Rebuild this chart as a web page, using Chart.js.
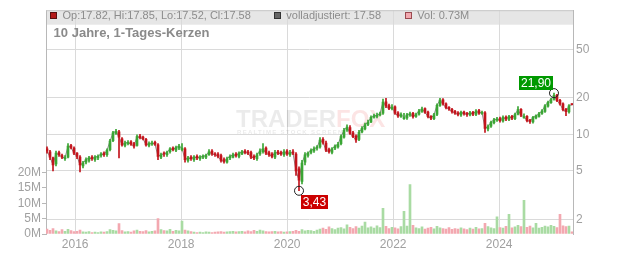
<!DOCTYPE html>
<html><head><meta charset="utf-8">
<script src="https://cdn.jsdelivr.net/npm/chart.js@4"></script>
<style>html,body{margin:0;padding:0;background:#fff;overflow:hidden}canvas{display:block}</style>
</head><body>
<canvas id="c" width="632" height="253"></canvas>
<script>
// ---- data ----
const startYear = 2015.469;   // first candle (decimal year)
const stepYears = 0.0566;     // candle spacing
const opens = [
7.6,7.2,6.4,5.7,7.1,6.7,6.3,6.5,8.1,7.7,
7.0,6.5,5.5,5.9,6.1,6.5,6.2,6.4,6.7,7.0,
6.8,7.5,8.9,10.2,10.5,9.2,8.1,8.4,8.7,8.4,
8.1,9.7,9.5,9.1,8.1,8.3,8.6,8.2,6.5,7.0,
6.8,7.2,7.7,7.4,7.7,7.5,7.6,6.1,6.5,6.2,
6.6,6.3,6.5,6.5,6.8,7.3,6.9,6.9,6.7,6.2,
5.9,6.4,6.5,6.9,6.6,6.9,7.3,7.2,7.1,6.6,
6.3,6.9,7.2,7.7,7.1,6.9,6.5,7.2,7.1,6.8,
7.3,6.8,7.2,6.9,5.2,4.1,5.9,6.7,7.1,7.3,
7.7,7.9,9.1,8.5,7.5,7.1,7.7,7.9,8.4,9.5,
10.9,11.4,10.3,9.7,9.1,10.5,11.1,12.1,12.7,13.9,
14.1,14.5,15.0,18.6,17.3,16.3,16.9,15.1,14.1,13.5,
13.7,14.4,14.9,14.1,14.7,15.5,16.3,15.3,14.1,13.5,
14.6,17.3,19.3,17.9,16.7,16.1,15.5,15.1,14.5,15.3,
14.9,14.5,15.2,14.6,15.7,14.9,15.1,11.1,11.7,12.5,
13.1,13.5,12.9,13.9,13.3,14.1,13.5,14.7,16.1,13.7,
14.1,13.1,12.7,13.7,14.1,14.9,15.5,17.1,18.3,19.5,
21.1,19.1,17.9,16.1,15.3,17.82];
const highs = [
7.9,7.4,6.5,7.3,7.3,6.9,6.7,8.4,8.3,7.9,
7.1,6.7,6.0,6.4,6.6,6.7,6.7,6.8,7.1,7.2,
7.6,9.1,10.6,11.0,10.8,9.4,8.8,8.9,8.9,8.6,
9.9,10.0,9.7,9.3,8.7,8.8,8.8,8.4,7.0,7.2,
7.3,7.8,7.9,8.0,8.3,8.4,7.8,6.6,6.7,6.7,
6.8,6.7,6.8,6.9,7.5,7.5,7.1,7.1,6.9,6.4,
6.5,6.8,7.0,7.1,7.2,7.4,7.5,7.4,7.3,6.8,
7.0,7.6,8.4,7.9,7.3,7.1,7.4,7.4,7.3,7.5,
7.5,7.4,7.5,7.1,5.4,6.1,7.1,7.2,7.6,7.9,
8.1,9.4,9.4,8.8,7.7,7.8,8.2,8.6,9.9,11.2,
12.0,11.8,10.6,9.9,10.8,11.6,12.4,13.1,14.2,14.7,
15.0,15.3,19.6,19.8,17.8,17.6,17.2,15.4,15.1,14.9,
14.9,15.3,15.2,15.0,16.1,16.8,16.6,15.6,14.3,14.9,
17.9,19.8,19.7,18.2,17.0,16.4,15.8,15.4,15.6,15.6,
15.2,15.5,15.5,16.0,16.1,15.6,15.4,12.0,12.9,13.6,
13.8,13.9,14.2,14.2,14.4,14.4,15.0,17.0,16.3,14.8,
14.3,13.3,14.1,14.5,15.2,16.0,17.6,18.8,19.8,21.9,
21.4,19.5,18.2,16.4,17.6,17.85];
const lows = [
7.0,6.2,5.0,5.5,6.6,6.3,6.1,6.4,7.6,6.8,
6.3,4.9,5.3,5.7,5.9,6.1,6.0,6.2,6.5,6.6,
6.6,7.3,8.7,10.0,6.4,8.0,7.9,8.2,8.1,7.7,
8.0,9.2,9.0,8.0,7.9,8.1,8.1,6.2,6.3,6.6,
6.6,7.0,7.3,7.2,7.5,7.3,5.9,5.9,6.1,6.0,
6.2,6.1,6.3,6.3,6.7,6.7,6.6,6.4,5.9,5.8,
5.8,6.2,6.4,6.5,6.4,6.8,6.9,6.8,6.3,6.2,
6.1,6.7,7.0,6.8,6.6,6.4,6.3,6.8,6.7,6.6,
6.7,6.6,6.8,4.6,3.43,3.9,5.6,6.5,6.9,7.1,
7.4,7.7,8.3,7.2,7.0,6.9,7.5,7.7,8.2,9.3,
10.6,10.0,9.4,8.6,8.9,10.3,10.9,11.8,12.5,13.6,
13.7,14.2,14.6,16.6,16.0,15.9,14.6,13.8,13.8,13.3,
13.3,14.1,13.6,13.8,14.4,15.2,14.9,13.7,13.2,13.2,
14.3,17.0,17.4,16.2,15.8,15.0,14.6,14.2,14.1,14.4,
14.1,14.2,14.3,14.3,14.6,14.6,10.4,10.7,11.4,12.2,
12.8,12.6,12.6,13.0,13.0,13.2,13.2,14.5,14.0,13.6,
12.7,12.3,12.4,13.4,13.9,14.6,15.2,16.8,18.0,19.2,
18.6,17.4,15.6,14.3,15.0,17.52];
const closes = [
7.3,6.5,5.6,7.0,6.8,6.5,6.4,8.0,7.8,7.0,
6.6,5.6,5.8,6.2,6.4,6.3,6.5,6.6,6.9,6.8,
7.4,8.8,10.3,10.6,9.5,8.2,8.5,8.6,8.3,8.0,
9.6,9.4,9.2,8.2,8.4,8.5,8.3,6.6,6.8,6.9,
7.1,7.6,7.5,7.8,8.0,7.7,6.2,6.4,6.3,6.5,
6.4,6.5,6.6,6.7,7.2,6.9,6.8,6.6,6.1,6.0,
6.3,6.6,6.8,6.7,7.0,7.2,7.1,7.0,6.5,6.4,
6.8,7.3,7.6,7.0,6.8,6.6,7.1,7.0,6.9,7.2,
6.9,7.1,7.0,5.0,4.2,5.8,6.8,7.0,7.4,7.6,
7.8,9.0,8.6,7.4,7.2,7.6,8.0,8.3,9.6,10.8,
11.5,10.2,9.6,9.0,10.4,11.2,12.0,12.6,13.8,14.2,
14.4,14.8,18.5,17.2,16.4,16.8,15.0,14.2,14.6,13.8,
14.5,14.8,14.0,14.6,15.6,16.2,15.2,14.0,13.6,14.5,
17.4,19.2,17.8,16.6,16.2,15.4,15.0,14.6,15.2,14.8,
14.6,15.1,14.7,15.6,15.0,15.2,11.2,11.6,12.6,13.2,
13.4,13.0,13.8,13.4,14.0,13.6,14.6,16.0,14.4,14.0,
13.0,12.8,13.8,14.2,14.8,15.6,17.2,18.4,19.4,21.0,
19.0,17.8,16.0,15.4,17.2,17.58];
const volumes = [ // millions
1.6,1.2,1.8,1.0,0.8,1.4,0.9,1.5,1.1,0.8,
0.9,1.3,0.7,0.6,0.8,0.5,0.6,0.5,0.7,0.6,
0.8,1.4,1.2,1.0,3.4,1.1,0.7,0.8,0.6,1.0,
1.3,0.9,0.8,1.1,0.7,0.9,1.0,5.0,1.4,1.1,
1.0,1.5,0.9,1.2,1.0,4.2,1.3,1.0,0.8,0.6,
0.5,0.6,0.5,0.7,0.6,0.5,0.6,0.7,0.8,0.6,
0.7,0.8,0.9,0.7,0.8,0.9,0.7,1.0,0.8,1.2,
0.9,1.3,1.0,0.8,0.7,0.8,0.9,0.7,0.8,0.6,
0.7,0.8,0.9,1.2,0.9,1.4,1.0,1.2,1.1,0.9,
1.3,1.6,1.9,1.5,2.3,1.8,1.4,1.9,2.1,1.7,
3.0,2.2,1.8,2.4,1.9,2.6,3.9,2.0,2.3,1.9,
2.7,2.1,8.4,2.5,1.8,2.2,2.0,1.7,2.4,7.4,
2.6,16.1,2.8,2.0,1.8,2.3,1.6,1.9,2.2,1.7,
2.5,2.0,1.8,1.6,2.1,1.5,1.8,1.6,2.0,1.7,
1.4,1.9,1.6,2.2,1.7,1.8,3.5,2.4,2.0,1.8,
5.6,2.1,1.9,2.5,6.4,2.0,2.3,2.8,2.4,11.0,
2.2,2.6,2.0,3.5,1.9,2.2,2.6,2.3,2.8,2.5,
2.1,6.4,2.7,2.4,2.6,0.73];
const yearTicks = [2016, 2018, 2020, 2022, 2024];
const priceTicks = [2, 5, 10, 20, 50];
const volumeTicks = [0, 5, 10, 15, 20];
const titleText = '10 Jahre, 1-Tages-Kerzen';
const legendOhlc = 'Op:17.82, Hi:17.85, Lo:17.52, Cl:17.58';
const legendAdj = 'volladjustiert: 17.58';
const legendVol = 'Vol: 0.73M';

// ---- styling ----
const FONT = "'Liberation Sans', Arial, sans-serif";
const GREEN = '#3aa534', RED = '#c3141c', VGREEN = '#a9dba3', VRED = '#f3a8b0';
const TICKCOL = '#a0a0a0', GRIDCOL = '#dadada', AXISCOL = '#b8b8b8';

const dates = closes.map((_, i) => startYear + i * stepYears);
const up = closes.map((c, i) => c >= opens[i]);

const decor = {
  id: 'decor',
  beforeDraw(chart) {
    const ctx = chart.ctx, a = chart.chartArea;
    ctx.save();
    ctx.fillStyle = '#fff'; ctx.fillRect(0, 0, chart.width, chart.height);
    ctx.fillStyle = '#e6e6e6'; ctx.fillRect(a.left, a.top, a.right - a.left, 14.5);
    ctx.restore();
  },
  beforeDatasetsDraw(chart) {
    const ctx = chart.ctx;
    ctx.save();
    ctx.font = 'bold 24px ' + FONT; ctx.textBaseline = 'alphabetic';
    ctx.fillStyle = 'rgba(0,0,0,0.08)';
    ctx.fillText('TRADER', 236, 127);
    const w = ctx.measureText('TRADER').width;
    ctx.fillStyle = 'rgba(235,90,90,0.16)';
    ctx.fillText('FOX', 236 + w, 127);
    ctx.font = 'bold 6px ' + FONT;
    ctx.letterSpacing = '1.3px';
    ctx.fillStyle = 'rgba(0,0,0,0.09)';
    ctx.fillText('REALTIME STOCK SCREENING', 237, 134);
    ctx.restore();
  },
  afterDraw(chart) {
    const ctx = chart.ctx, a = chart.chartArea;
    ctx.save();
    ctx.strokeStyle = '#c8c8c8'; ctx.lineWidth = 1;
    ctx.beginPath(); ctx.moveTo(a.left, a.top + 0.5); ctx.lineTo(a.right, a.top + 0.5); ctx.stroke();
    const sq = (x, fill, stroke) => {
      ctx.fillStyle = fill; ctx.fillRect(x, 12.5, 6, 6);
      ctx.strokeStyle = stroke; ctx.lineWidth = 1; ctx.strokeRect(x + 0.5, 12.5, 6, 6);
    };
    ctx.font = '11px ' + FONT; ctx.textBaseline = 'middle';
    sq(50, '#b41a1a', '#5a1010');
    ctx.fillStyle = '#8c8c8c'; ctx.fillText(legendOhlc, 62.5, 16);
    sq(274, '#666', '#333');
    ctx.fillStyle = '#8c8c8c'; ctx.fillText(legendAdj, 286.3, 16);
    sq(405, '#f2a9b0', '#9a4a50');
    ctx.fillStyle = '#8c8c8c'; ctx.fillText(legendVol, 417.3, 16);
    ctx.font = 'bold 13px ' + FONT; ctx.fillStyle = '#8a8a8a';
    ctx.fillText(titleText, 53.6, 33.5);
    // annotations: min low and max high
    const xs = chart.scales.x, ys = chart.scales.y;
    let iMin = 0, iMax = 0;
    lows.forEach((v, i) => { if (v < lows[iMin]) iMin = i; });
    highs.forEach((v, i) => { if (v > highs[iMax]) iMax = i; });
    const fmt = v => v.toFixed(2).replace('.', ',');
    const mark = (i, v, low) => {
      const cx = xs.getPixelForValue(dates[i]), cy = ys.getPixelForValue(v);
      ctx.strokeStyle = '#222'; ctx.lineWidth = 1;
      ctx.beginPath(); ctx.arc(cx, cy, 4.5, 0, Math.PI * 2); ctx.stroke();
      ctx.font = '12px ' + FONT;
      const t = fmt(v), tw = ctx.measureText(t).width, bw = Math.round(tw + 4), bh = 14;
      const bx = low ? Math.round(cx + 1.5) : Math.round(cx - 1 - bw);
      const by = low ? Math.round(cy + 4) : Math.round(cy - 17);
      ctx.fillStyle = low ? '#cc0000' : '#009900';
      ctx.fillRect(bx, by, bw, bh);
      ctx.fillStyle = '#fff'; ctx.textAlign = 'center'; ctx.textBaseline = 'middle';
      ctx.fillText(t, bx + bw / 2, by + bh / 2 + 0.5);
      ctx.textAlign = 'left';
    };
    mark(iMin, lows[iMin], true);
    mark(iMax, highs[iMax], false);
    ctx.restore();
  }
};

new Chart(document.getElementById('c'), {
  type: 'bar',
  data: {
    datasets: [
      { type: 'bar', label: 'body', yAxisID: 'y', order: 0, grouped: false,
        data: dates.map((d, i) => ({ x: d, y: [opens[i], closes[i]] })),
        backgroundColor: up.map(u => u ? GREEN : RED), barThickness: 2, minBarLength: 1 },
      { type: 'bar', label: 'wick', yAxisID: 'y', order: 1, grouped: false,
        data: dates.map((d, i) => ({ x: d, y: [lows[i], highs[i]] })),
        backgroundColor: up.map(u => u ? GREEN : RED), barThickness: 1 },
      { type: 'line', label: 'adj', yAxisID: 'y', order: 2,
        data: dates.map((d, i) => ({ x: d, y: closes[i] })),
        borderColor: '#8a8a8a', borderWidth: 1, pointRadius: 0, tension: 0 },
      { type: 'bar', label: 'vol', yAxisID: 'yv', order: 3, grouped: false,
        data: dates.map((d, i) => ({ x: d, y: volumes[i] })),
        backgroundColor: up.map(u => u ? VGREEN : VRED), barThickness: 2 }
    ]
  },
  options: {
    responsive: false, animation: false, devicePixelRatio: 1,
    layout: { padding: { top: 8, left: 0, right: 0, bottom: 0 } },
    plugins: { legend: { display: false }, tooltip: { enabled: false } },
    scales: {
      x: { type: 'linear', min: 2015.45, max: 2025.393, offset: false,
        afterBuildTicks: s => { s.ticks = yearTicks.map(v => ({ value: v })); },
        afterFit: s => { s.height = 19; },
        grid: { color: GRIDCOL, lineWidth: 1, drawTicks: false, offset: false },
        border: { display: false },
        ticks: { color: TICKCOL, font: { size: 12, family: FONT }, padding: 3, maxRotation: 0, autoSkip: false, callback: v => String(v) } },
      y: { type: 'logarithmic', position: 'right', min: 1.51, max: 105.7,
        afterBuildTicks: s => { s.ticks = priceTicks.map(v => ({ value: v })); },
        afterFit: s => { s.width = 59; },
        grid: { color: GRIDCOL, lineWidth: 1, drawTicks: false },
        border: { display: true, color: AXISCOL },
        ticks: { color: TICKCOL, font: { size: 12, family: FONT }, padding: 3, autoSkip: false, callback: v => String(v) } },
      yv: { type: 'linear', position: 'left', min: 0, max: 72.9,
        afterBuildTicks: s => { s.ticks = volumeTicks.map(v => ({ value: v })); },
        afterFit: s => { s.width = 46; },
        grid: { drawOnChartArea: false, drawTicks: true, tickLength: 4, color: AXISCOL },
        border: { display: true, color: AXISCOL },
        ticks: { color: TICKCOL, font: { size: 12, family: FONT }, padding: 1, autoSkip: false, callback: v => v + 'M' } }
    }
  },
  plugins: [decor]
});
</script>
</body></html>
